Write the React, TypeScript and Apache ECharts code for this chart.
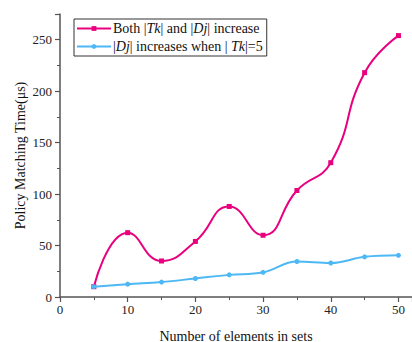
import React, { useEffect, useRef } from "react";
import * as echarts from "echarts";

const xValues = [5, 10, 15, 20, 25, 30, 35, 40, 45, 50];
const seriesBoth = [10, 62.5, 35, 54, 88, 60, 103.5, 130.5, 218, 254];
const seriesDj = [10, 12.5, 14.5, 18, 21.5, 24, 34.5, 33, 39, 40.5];
const seriesNames = ["Both |Tk| and |Dj| increase", "|Dj| increases when | Tk|=5"];

const FONT = "'Liberation Serif', 'Times New Roman', serif";

export default function App() {
  const ref = useRef<HTMLDivElement>(null);
  useEffect(() => {
    if (!ref.current) return;
    const chart = echarts.init(ref.current, undefined, { renderer: "svg" });
    const toPairs = (ys: number[]) => xValues.map((x, i) => [x, ys[i]]);
    chart.setOption({
      animation: false,
      grid: { left: 60, right: 0, top: 14, bottom: 45, containLabel: false, outerBoundsMode: "none" },
      legend: {
        orient: "vertical",
        left: 74,
        top: 19,
        padding: [1, 4, 1, 2],
        itemGap: 1,
        itemWidth: 34,
        itemHeight: 6,
        borderColor: "#333",
        borderWidth: 1,
        borderRadius: 0,
        formatter: (name: string) => name.replace(/Tk/g, "{i|Tk}").replace(/Dj/g, "{i|Dj}"),
        textStyle: {
          fontFamily: FONT,
          fontSize: 14,
          lineHeight: 17,
          color: "#111",
          padding: [0, 0, 0, -3],
          rich: {
            i: { fontFamily: FONT, fontSize: 14, lineHeight: 17, fontStyle: "italic", color: "#111" },
          },
        },
        data: seriesNames,
      },
      xAxis: {
        type: "value",
        min: 0,
        max: 52,
        interval: 10,
        name: "Number of elements in sets",
        nameLocation: "middle",
        nameGap: 32,
        nameMoveOverlap: false,
        nameTextStyle: { fontFamily: FONT, fontSize: 14, color: "#111" },
        axisLine: { show: true, onZero: false, lineStyle: { color: "#555", width: 1.5 } },
        axisTick: { show: true, length: 5, lineStyle: { color: "#555", width: 1.2 } },
        minorTick: { show: true, splitNumber: 2, length: 3, lineStyle: { color: "#555", width: 1 } },
        axisLabel: {
          fontFamily: FONT,
          fontSize: 13,
          color: "#222",
          margin: 6,
          showMaxLabel: false,
        },
        splitLine: { show: false },
      },
      yAxis: {
        type: "value",
        min: 0,
        max: 275,
        interval: 50,
        name: "Policy Matching Time(μs)",
        nameLocation: "middle",
        nameGap: 33,
        nameMoveOverlap: false,
        nameTextStyle: { fontFamily: FONT, fontSize: 14, color: "#111" },
        axisLine: { show: true, lineStyle: { color: "#555", width: 1.5 } },
        axisTick: { show: true, length: 5, lineStyle: { color: "#555", width: 1.2 } },
        minorTick: { show: true, splitNumber: 2, length: 3, lineStyle: { color: "#555", width: 1 } },
        axisLabel: {
          fontFamily: FONT,
          fontSize: 13,
          color: "#222",
          margin: 8,
          showMaxLabel: false,
        },
        splitLine: { show: false },
      },
      series: [
        {
          name: seriesNames[0],
          type: "line",
          data: toPairs(seriesBoth),
          smooth: 0.5,
          symbol: "rect",
          symbolSize: 5,
          lineStyle: { color: "#E8007F", width: 2 },
          itemStyle: { color: "#E8007F" },
          z: 3,
        },
        {
          name: seriesNames[1],
          type: "line",
          data: toPairs(seriesDj),
          smooth: 0.4,
          symbol: "circle",
          symbolSize: 5,
          lineStyle: { color: "#4DB8F5", width: 2 },
          itemStyle: { color: "#4DB8F5" },
          z: 4,
        },
      ],
    });
    return () => chart.dispose();
  }, []);
  return <div ref={ref} style={{ width: 412, height: 342, position: "absolute", left: 0, top: 0 }} />;
}
